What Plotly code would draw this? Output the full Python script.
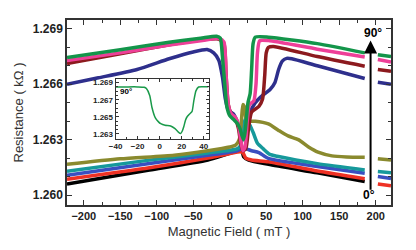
import plotly.graph_objects as go

# ---------------- data ----------------
green_x = [-223, -150, -83, -40, -18, -13, -10, -7, -4, 0, 5, 10, 14, 17, 19, 21, 23, 25, 28, 30, 32, 35, 53, 120, 185, None, 203, 221]
green_y = [1.26745, 1.26787, 1.26827, 1.26849, 1.26860, 1.26850, 1.2675, 1.2661, 1.2648, 1.2643, 1.2641, 1.2639, 1.2636, 1.2632, 1.2630, 1.2634, 1.2642, 1.2650, 1.2655, 1.2668, 1.2682, 1.26855, 1.26855, 1.2682, 1.2677, None, 1.2676, 1.2675]

pink_x = [-223, -150, -83, -40, -15, -8, -5, -2, 2, 8, 12, 15, 18, 21, 24, 27, 33, 36, 38, 41, 53, 120, 185, None, 203, 221]
pink_y = [1.26729, 1.2677, 1.26812, 1.26835, 1.26848, 1.2683, 1.2665, 1.2649, 1.2644, 1.2642, 1.2638, 1.2630, 1.2624, 1.2626, 1.2640, 1.2649, 1.2651, 1.2660, 1.2677, 1.26835, 1.26837, 1.2679, 1.26748, None, 1.26734, 1.2672]

maroon_x = [-223, -150, -83, -40, -15, -8, -5, -2, 2, 8, 12, 15, 18, 22, 26, 30, 40, 45, 48, 50, 53, 60, 120, 185, None, 203, 221]
maroon_y = [1.26712, 1.26765, 1.26814, 1.2684, 1.26845, 1.2682, 1.2665, 1.2649, 1.2644, 1.2641, 1.2636, 1.2628, 1.2624, 1.2625, 1.2637, 1.2645, 1.2648, 1.2652, 1.2665, 1.2677, 1.2680, 1.26805, 1.2675, 1.26698, None, 1.2668, 1.2667]

navy_x = [-223, -180, -127, -83, -50, -31, -22, -15, -10, -6, -2, 5, 10, 15, 18, 22, 27, 35, 45, 55, 62, 67, 72, 78, 85, 120, 185, None, 203, 221]
navy_y = [1.2660, 1.26635, 1.2668, 1.26738, 1.26775, 1.26788, 1.2677, 1.2673, 1.2664, 1.2652, 1.2646, 1.2644, 1.2640, 1.2633, 1.2630, 1.2634, 1.2644, 1.2650, 1.2654, 1.2657, 1.2661, 1.2668, 1.26725, 1.2674, 1.26738, 1.2670, 1.26631, None, 1.26611, 1.2660]

olive_x = [-223, -150, -76, -30, 0, 8, 13, 16, 18, 20, 22, 26, 35, 53, 67, 80, 94, 108, 121, 140, 160, 185, None, 203, 221]
olive_y = [1.26166, 1.26196, 1.26216, 1.26240, 1.2626, 1.2627, 1.2630, 1.2640, 1.2649, 1.2648, 1.2642, 1.2640, 1.2640, 1.26385, 1.2635, 1.2632, 1.2630, 1.2626, 1.26232, 1.26212, 1.26206, 1.26204, None, 1.26196, 1.2619]

teal_x = [-223, -110, -30, 10, 15, 18, 21, 26, 32, 38, 46, 55, 65, 120, 185, None, 203, 221]
teal_y = [1.26129, 1.26189, 1.26228, 1.2625, 1.2627, 1.2634, 1.2641, 1.2639, 1.2634, 1.2628, 1.2625, 1.2622, 1.2621, 1.2617, 1.26136, None, 1.26127, 1.2612]

blue_x = [-223, -110, -30, 10, 16, 22, 30, 40, 53, 120, 185, None, 203, 221]
blue_y = [1.26107, 1.26171, 1.26215, 1.2624, 1.2625, 1.2625, 1.2624, 1.2623, 1.26198, 1.26155, 1.26118, None, 1.2610, 1.2609]

red_x = [-223, -110, -30, 14, 18, 22, 30, 53, 120, 185, None, 203, 221]
red_y = [1.26086, 1.26148, 1.26200, 1.26235, 1.2623, 1.2620, 1.26190, 1.2618, 1.2613, 1.26088, None, 1.2606, 1.2605]

black_x = [-223, -110, -30, 14.6, 17, 19, 26, 53, 120, 185]
black_y = [1.26059, 1.26135, 1.26190, 1.26243, 1.2624, 1.26207, 1.26189, 1.26166, 1.2612, 1.26073]

inset_x = [-40, -30, -20, -14, -12, -9, -7, -4, -1, 1, 5, 10, 14, 17, 19, 20.5, 22, 23.5, 25, 27, 29.4, 31, 33, 35.4, 40, 44.5]
inset_y = [1.26849, 1.26850, 1.26850, 1.26845, 1.26830, 1.2675, 1.26612, 1.26490, 1.26440, 1.26419, 1.26400, 1.26392, 1.26360, 1.26320, 1.26303, 1.26330, 1.26385, 1.26460, 1.26500, 1.26530, 1.26560, 1.26680, 1.26803, 1.26849, 1.26852, 1.26852]

xticks_main = [-200, -150, -100, -50, 0, 50, 100, 150, 200]
yticks_main = [1.260, 1.263, 1.266, 1.269]
xticks_inset = [-40, -20, 0, 20, 40]
yticks_inset = [1.263, 1.265, 1.267, 1.269]

series = [
    ("0°", black_x, black_y, "#000000"),
    ("red", red_x, red_y, "#ee3124"),
    ("blue", blue_x, blue_y, "#3a4fc0"),
    ("teal", teal_x, teal_y, "#16999b"),
    ("olive", olive_x, olive_y, "#8a8a2e"),
    ("navy", navy_x, navy_y, "#2e2f8c"),
    ("maroon", maroon_x, maroon_y, "#8c1a1e"),
    ("pink", pink_x, pink_y, "#ee3f98"),
    ("90°", green_x, green_y, "#13954a"),
]

fig = go.Figure()
for name, xs, ys, col in series:
    fig.add_trace(go.Scatter(x=xs, y=ys, mode="lines", name=name,
                             line=dict(color=col, width=3.5, shape="spline", smoothing=0.6),
                             connectgaps=False, showlegend=False,
                             xaxis="x", yaxis="y"))

fig.add_trace(go.Scatter(x=inset_x, y=inset_y, mode="lines",
                         line=dict(color="#1a9a4a", width=1.5, shape="spline", smoothing=0.6),
                         showlegend=False, xaxis="x2", yaxis="y2"))

axcol = "#333333"

fig.update_layout(
    width=416, height=250,
    margin=dict(l=58, r=33, t=10, b=53),
    paper_bgcolor="white", plot_bgcolor="white",
    xaxis=dict(range=[-223, 221], tickvals=xticks_main, ticks="inside", ticklen=5, tickwidth=1,
               tickcolor=axcol, showline=True, linecolor=axcol, linewidth=1.5, mirror="ticks",
               showgrid=False, zeroline=False,
               minor=dict(dtick=25, tick0=0, ticks="inside", ticklen=3, tickcolor=axcol, showgrid=False),
               tickfont=dict(family="Arial, Liberation Sans, sans-serif", size=11, color="#222222", weight="bold"),
               title=dict(text="Magnetic Field ( mT )", standoff=6,
                          font=dict(family="Arial, Liberation Sans, sans-serif", size=13, color="#333333"))),
    yaxis=dict(range=[1.25946, 1.26948], tickvals=yticks_main, tickformat=".3f", ticks="inside", ticklen=5,
               tickwidth=1, tickcolor=axcol, showline=True, linecolor=axcol, linewidth=1.5, mirror="ticks",
               showgrid=False, zeroline=False,
               minor=dict(dtick=0.001, tick0=1.260, ticks="inside", ticklen=3, tickcolor=axcol, showgrid=False),
               tickfont=dict(family="Arial, Liberation Sans, sans-serif", size=12, color="#222222", weight="bold"),
               title=dict(text="Resistance ( kΩ )", standoff=6,
                          font=dict(family="Arial, Liberation Sans, sans-serif", size=13, color="#333333"))),
    xaxis2=dict(domain=[0.150, 0.437], anchor="y2", range=[-40, 44.5], tickvals=xticks_inset,
                ticks="inside", ticklen=3, tickcolor=axcol, showline=True, linecolor=axcol, linewidth=1,
                mirror="ticks", showgrid=False, zeroline=False,
                minor=dict(dtick=10, tick0=0, ticks="inside", ticklen=2, tickcolor=axcol),
                tickfont=dict(family="Arial, Liberation Sans, sans-serif", size=8, color="#222222", weight="bold")),
    yaxis2=dict(domain=[0.358, 0.679], anchor="x2", range=[1.26242, 1.26938], tickvals=yticks_inset,
                tickformat=".3f", ticks="inside", ticklen=3, tickcolor=axcol, showline=True, linecolor=axcol,
                linewidth=1, mirror="ticks", showgrid=False, zeroline=False,
                minor=dict(dtick=0.0005, tick0=1.263, ticks="inside", ticklen=2, tickcolor=axcol),
                tickfont=dict(family="Arial, Liberation Sans, sans-serif", size=8, color="#222222", weight="bold")),
)

# angle arrow
fig.add_annotation(x=193, y=1.26837, ax=193, ay=1.26021, xref="x", yref="y", axref="x", ayref="y",
                   text="", showarrow=True, arrowhead=2, arrowsize=1.3, arrowwidth=2, arrowcolor="#000000")
fig.add_annotation(x=196, y=1.2688, xref="x", yref="y", text="<b>90°</b>", showarrow=False,
                   font=dict(family="Arial, Liberation Sans, sans-serif", size=12, color="#000000"))
fig.add_annotation(x=191, y=1.2600, xref="x", yref="y", text="<b>0°</b>", showarrow=False,
                   font=dict(family="Arial, Liberation Sans, sans-serif", size=12, color="#000000"))
fig.add_annotation(x=-38, y=1.2680, xref="x2", yref="y2", text="<b>90°</b>", showarrow=False,
                   xanchor="left", font=dict(family="Arial, Liberation Sans, sans-serif", size=8, color="#000000"))

fig.write_html("out.html")
